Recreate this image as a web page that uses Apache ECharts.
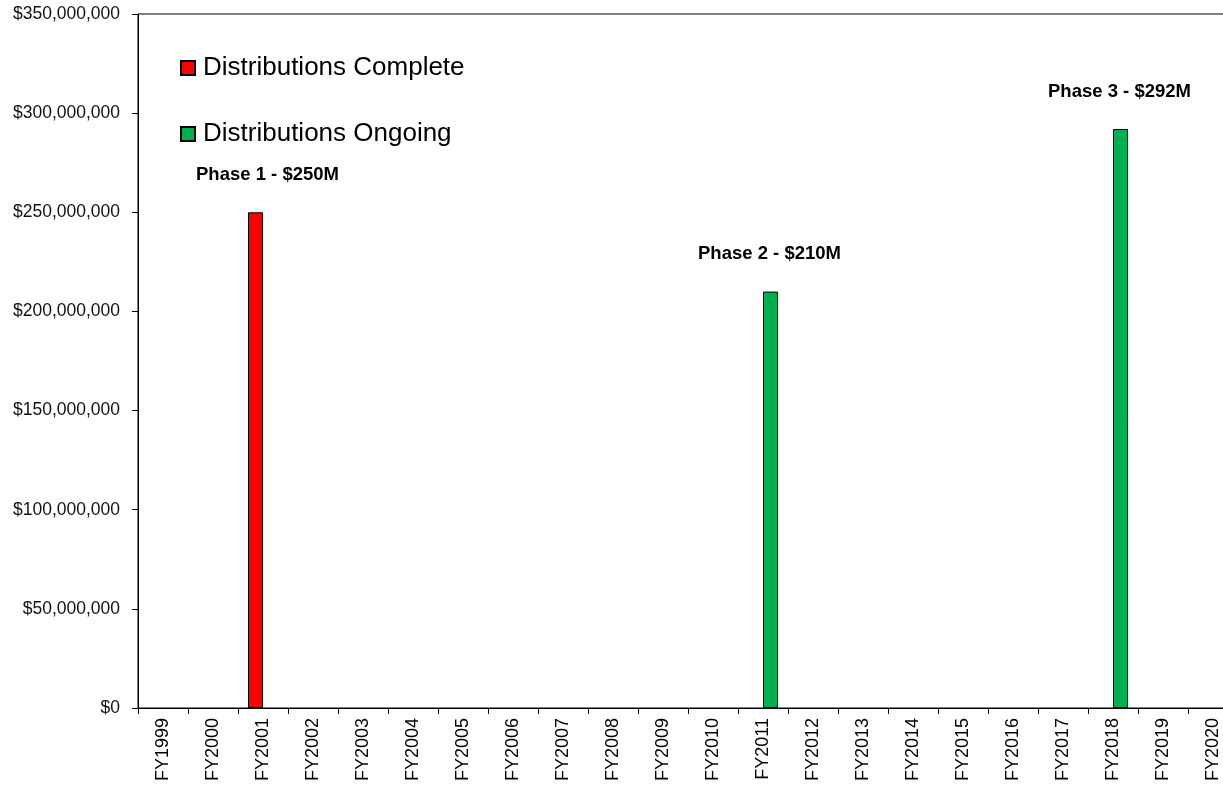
<!DOCTYPE html>
<html>
<head>
<meta charset="utf-8">
<script src="https://cdn.jsdelivr.net/npm/echarts@6/dist/echarts.min.js"></script>
<style>
  html, body { margin: 0; padding: 0; background: #fff; overflow: hidden; }
  #main { width: 1238px; height: 786px; }
</style>
</head>
<body>
<div id="main"></div>
<script>
// fiscal years on the x axis
var years = ['FY1999','FY2000','FY2001','FY2002','FY2003','FY2004','FY2005','FY2006','FY2007','FY2008','FY2009',
             'FY2010','FY2011','FY2012','FY2013','FY2014','FY2015','FY2016','FY2017','FY2018','FY2019','FY2020'];
// distributions (dollars), null = nothing that year
var completeVals = [null,null,250000000,null,null,null,null,null,null,null,null,
                    null,null,null,null,null,null,null,null,null,null,null];
var ongoingVals  = [null,null,null,null,null,null,null,null,null,null,null,
                    null,210000000,null,null,null,null,null,null,292000000,null,null];
// phase labels keyed by year
var phaseLabels = { 'FY2001': 'Phase 1 - $250M', 'FY2011': 'Phase 2 - $210M', 'FY2018': 'Phase 3 - $292M' };
var seriesNames = ['Distributions Complete', 'Distributions Ongoing'];

function money(v){
    return '$' + v.toString().replace(/\B(?=(\d{3})+(?!\d))/g, ',');
}

var chart = echarts.init(document.getElementById('main'));
var font = 'Liberation Sans, Arial, sans-serif';

var phaseLabel = function(dx){
    return {
        show: true,
        position: 'top',
        distance: 5,
        offset: [dx, -23],
        fontFamily: font,
        fontWeight: 'bold',
        fontSize: 18.5,
        color: '#000',
        formatter: function(p){ return phaseLabels[p.name] || ''; }
    };
};

chart.setOption({
    animation: false,
    textStyle: { fontFamily: font },
    legend: {
        orient: 'vertical',
        left: 175,
        top: 50,
        itemGap: 40,
        itemWidth: 14,
        itemHeight: 14,
        icon: 'rect',
        textStyle: { fontSize: 26, color: '#000', fontFamily: font, padding: [0, 0, 0, 3] },
        data: seriesNames
    },
    grid: {
        left: 138, right: 0, top: 14, bottom: 78,
        show: true, borderColor: '#000', borderWidth: 1
    },
    xAxis: {
        type: 'category',
        data: years,
        axisLine: { lineStyle: { color: '#000', width: 1 } },
        axisTick: { show: true, length: 6, lineStyle: { color: '#000' } },
        axisLabel: { rotate: 90, fontSize: 18, color: '#000', margin: 10, fontFamily: font, interval: 0 },
        splitLine: { show: false }
    },
    yAxis: {
        type: 'value',
        min: 0, max: 350000000, interval: 50000000,
        axisLine: { show: true, lineStyle: { color: '#000', width: 1 } },
        axisTick: { show: true, length: 6, lineStyle: { color: '#000' } },
        axisLabel: { fontSize: 17.5, color: '#111', margin: 18, fontFamily: font, formatter: money },
        splitLine: { show: false }
    },
    series: [
        {
            name: seriesNames[0],
            type: 'bar',
            data: completeVals,
            barWidth: 15,
            barGap: '0%',
            itemStyle: { color: '#FF0000', borderColor: '#000', borderWidth: 1 },
            label: phaseLabel(12)
        },
        {
            name: seriesNames[1],
            type: 'bar',
            data: ongoingVals,
            barWidth: 15,
            barGap: '0%',
            itemStyle: { color: '#00B050', borderColor: '#000', borderWidth: 1 },
            label: phaseLabel(-1)
        }
    ]
});
</script>
</body>
</html>
